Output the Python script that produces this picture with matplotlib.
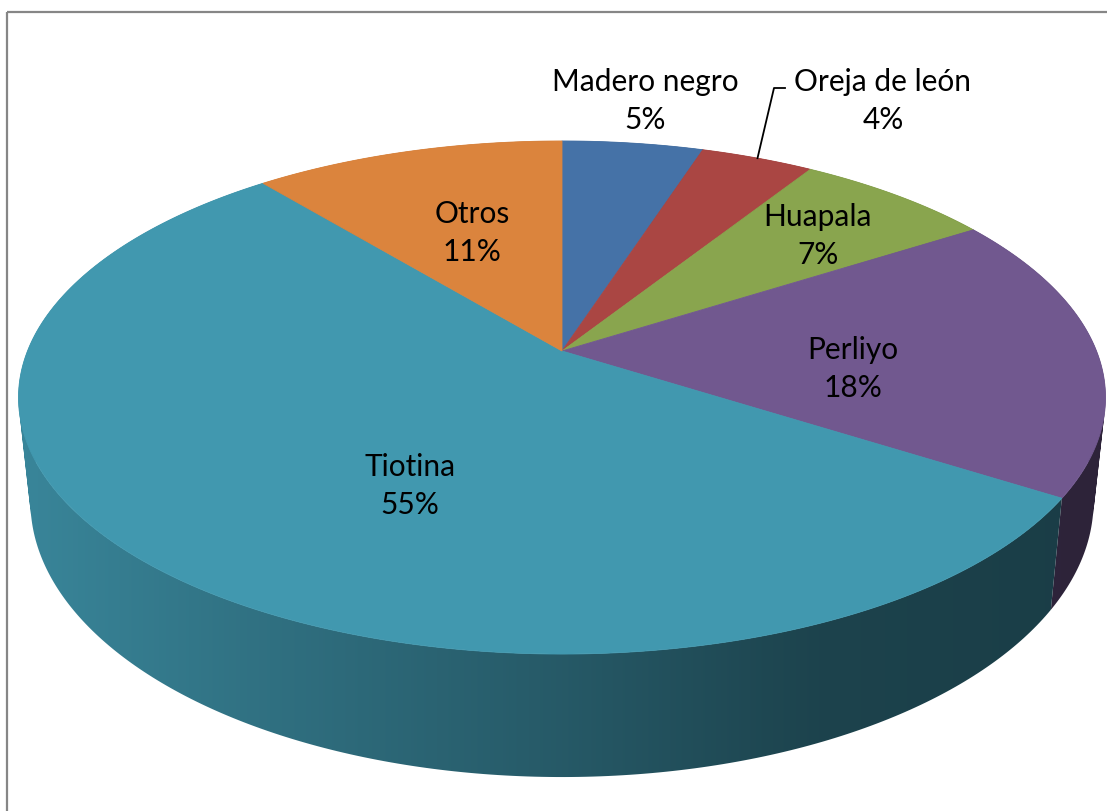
# 3d style pie of species share
import numpy as np
import matplotlib.pyplot as plt
from matplotlib.colors import to_rgb
from matplotlib.path import Path
from matplotlib.patches import Polygon, PathPatch, Rectangle

species = ['Madero negro', 'Oreja de león', 'Huapala', 'Perliyo', 'Tiotina', 'Otros']
percent = [5, 4, 7, 18, 55, 11]
colors = ['#4572A7', '#AA4643', '#89A54E', '#71588F', '#4198AF', '#DB843D']

# where the labels sit, in pixels (layout only)
label_xy = [(645, 101), (883, 101), (818, 236), (853, 369), (410, 486), (472, 233)]

# pie geometry in pixels, perspective view of a flat cylinder
cx, cy = 562, 352
A, B, k = 534.5, 248.1, 0.1813
h, s = 100.7, 0.978

# darkening of the side wall across the picture
shade_x = [18, 300, 560, 820, 1100]
shade_f = [0.88, 0.72, 0.59, 0.44, 0.40]

W, H = 1107, 812


def top(theta, r=1.0):
    u = r * np.sin(theta)
    v = r * np.cos(theta)
    w = 1 + k * v
    return cx + A * u / w, cy - B * v / w


def bottom(theta):
    u = np.sin(theta)
    v = np.cos(theta)
    w = 1 + k * v
    return cx + s * A * u / w, cy - B * v / w + h / w


def wall_path(t0, t1, n=300):
    # union of thin quads, all turned the same way (nonzero fill)
    th = np.linspace(t0, t1, n + 1)
    verts, codes = [], []
    for a, b in zip(th[:-1], th[1:]):
        q = np.array([top(a), top(b), bottom(b), bottom(a)])
        x, y = q[:, 0], q[:, 1]
        area = np.sum(x * np.roll(y, -1) - np.roll(x, -1) * y)
        if area < 0:
            q = q[::-1]
        verts += list(q) + [q[0]]
        codes += [Path.MOVETO, Path.LINETO, Path.LINETO, Path.LINETO, Path.CLOSEPOLY]
    return Path(verts, codes)


fig = plt.figure(figsize=(11.07, 8.12), dpi=100)
ax = fig.add_axes([0, 0, 1, 1])

frac = np.array(percent) / sum(percent)
edges = np.concatenate([[0], np.cumsum(frac)]) * 2 * np.pi

# side wall: one piece per slice, filled with a left-to-right gradient
shade = np.interp(np.arange(W) + 0.5, shade_x, shade_f)
order = sorted(range(len(percent)),
               key=lambda i: -np.cos((edges[i] + edges[i + 1]) / 2))
for i in order:
    wall = PathPatch(wall_path(edges[i], edges[i + 1]),
                     facecolor='none', edgecolor='none')
    ax.add_patch(wall)
    img = np.clip(np.array(to_rgb(colors[i]))[None, None, :] *
                  shade[None, :, None], 0, 1)
    img = np.repeat(img, 2, axis=0)
    im = ax.imshow(img, extent=(0, W, H, 0), aspect='auto',
                   interpolation='bilinear')
    im.set_clip_path(wall)

ax.set_xlim(0, W)
ax.set_ylim(H, 0)
ax.axis('off')

# top face
for i in range(len(percent)):
    th = np.linspace(edges[i], edges[i + 1], 200)
    xs, ys = top(th)
    pts = [(cx, cy)] + list(zip(xs, ys))
    ax.add_patch(Polygon(pts, closed=True, facecolor=colors[i],
                         edgecolor=colors[i], lw=0.6))

# labels
for name, p, (lx, ly) in zip(species, percent, label_xy):
    ax.text(lx, ly, f'{name}\n{p}%', ha='center', va='center',
            fontsize=21.5, family='Lato', linespacing=1.4, color='black')

# leader line for the small slice
mid = (edges[1] + edges[2]) / 2
ex, ey = top(mid)
ax.plot([785, 774, ex], [89, 89, ey], color='black', lw=1.3)

# chart frame
ax.add_patch(Rectangle((6.5, 12.5), 1300, 1000, fill=False,
                       edgecolor='#868686', lw=1.6, clip_on=False))

fig.savefig('out.png', dpi=100)
